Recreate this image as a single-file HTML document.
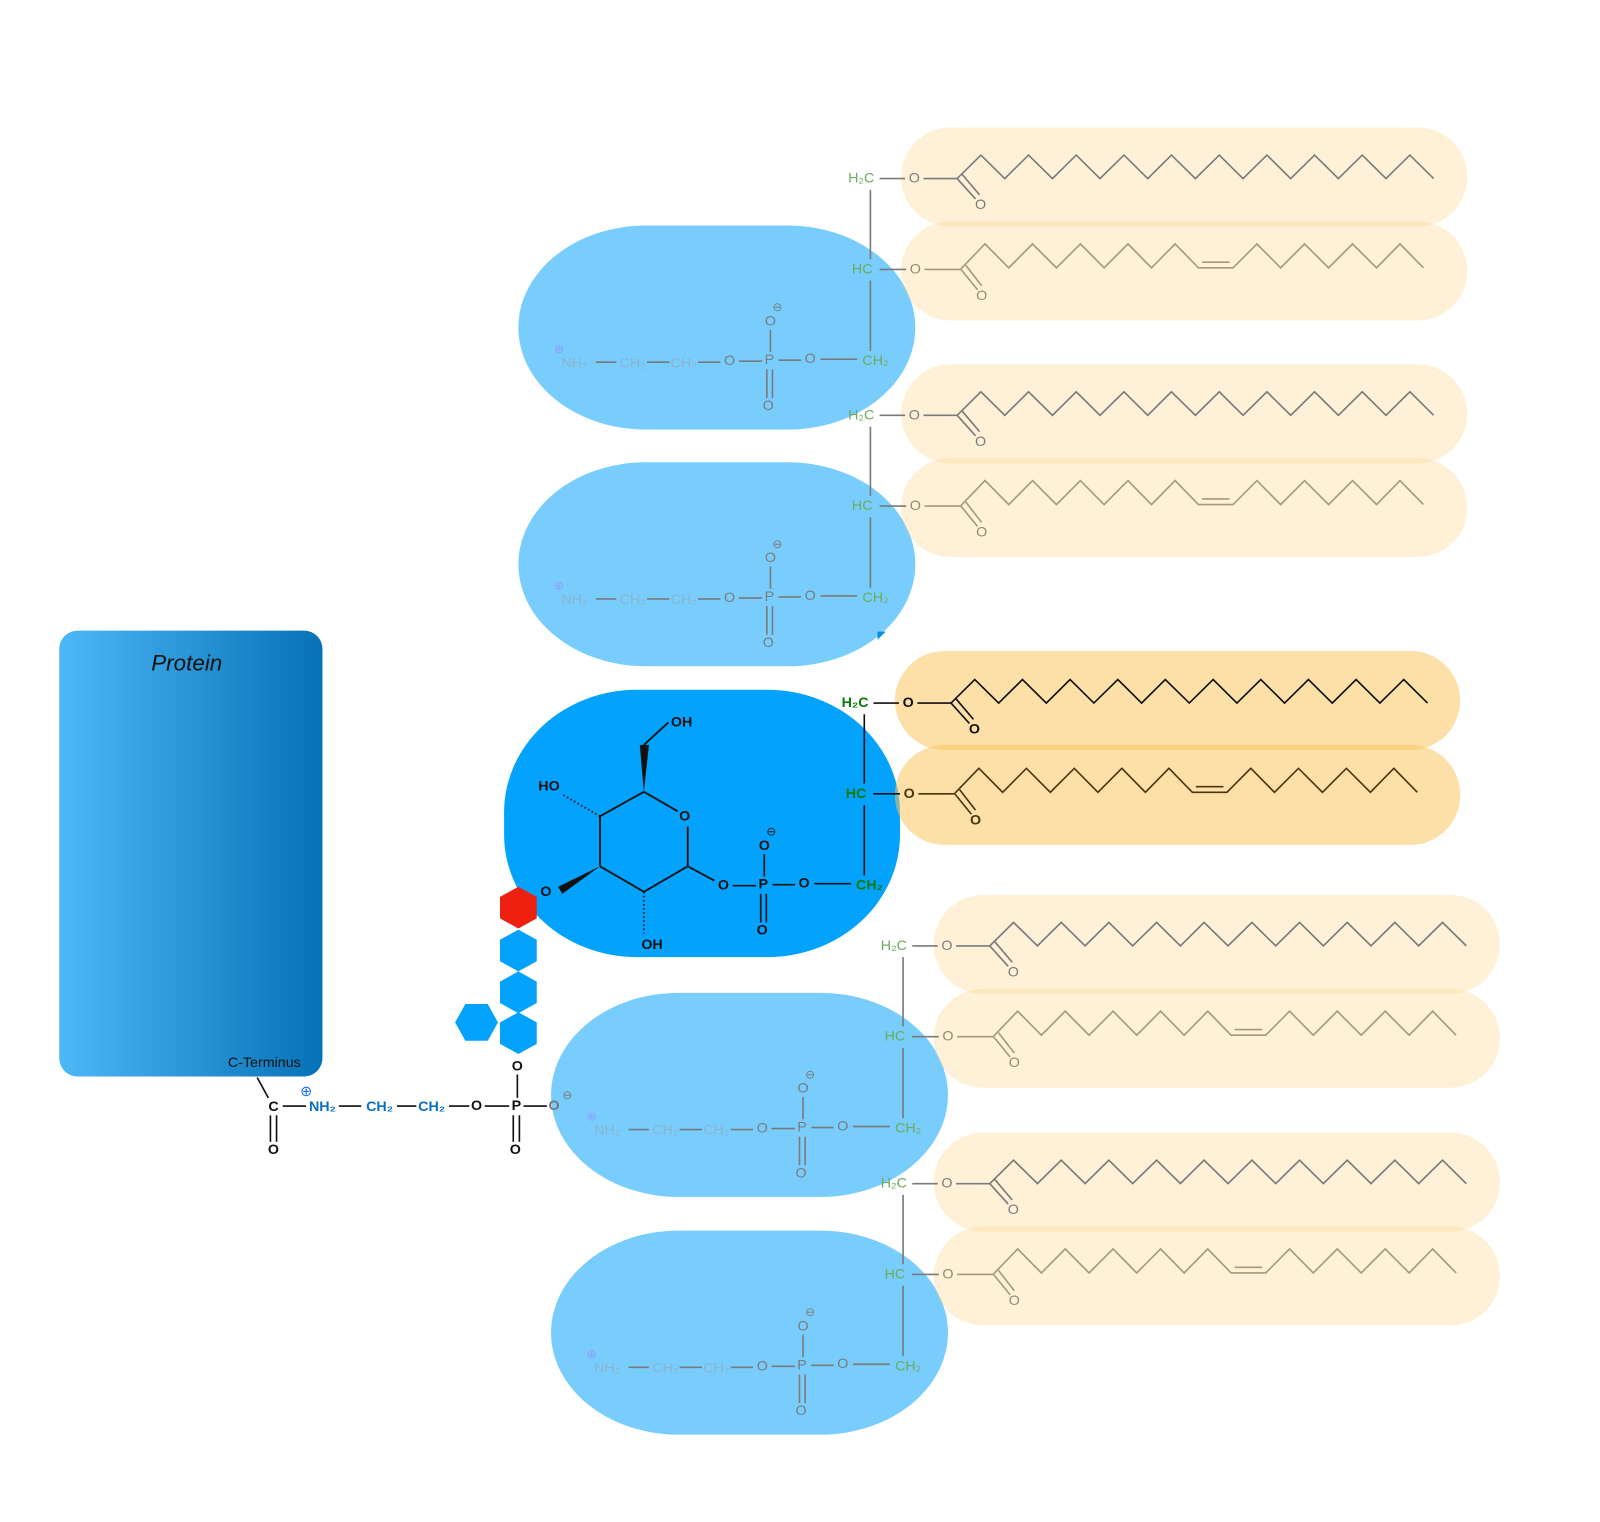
<!DOCTYPE html>
<html><head><meta charset="utf-8"><style>
html,body{margin:0;padding:0;background:#fff;}
svg{display:block;}
text{font-family:"Liberation Sans",sans-serif;text-anchor:middle;dominant-baseline:central;}
</style></head><body>
<svg width="1600" height="1522" viewBox="0 0 1568 1491.6" xmlns="http://www.w3.org/2000/svg">
<defs>
<linearGradient id="pg" x1="0" y1="0" x2="1" y2="0">
<stop offset="0" stop-color="#4cb8f7"/><stop offset="1" stop-color="#0672b6"/>
</linearGradient>
<g id="ch1" fill="none" stroke-width="1.6">
<polyline points="938,175 961.3,152 984.7,175 1008,152 1031.4,175 1054.7,152 1078,175 1101.5,152 1124.8,175 1148,152 1171.5,175 1194.9,152 1218.2,175 1241.6,152 1264.9,175 1288.3,152 1311.6,175 1335,152 1358.3,175 1381.7,152 1405,175"/>
<line x1="905" y1="175" x2="938" y2="175"/>
<line x1="938" y1="175" x2="956" y2="195"/><line x1="943" y1="171" x2="960" y2="191"/>
</g>
<g id="ch2" fill="none" stroke-width="1.6">
<polyline points="941.7,263.5 965.3,239 988.6,262.5 1011.9,239 1035.3,262.5 1058.8,239 1082,262.5 1105.4,239 1128.5,262.5 1151.6,239 1174.5,262.5 1208.4,262.5 1231.8,239 1255,262.5 1278.5,239 1302,262.5 1325.5,239 1349,262.5 1372,239 1395,262.5"/>
<line x1="1178" y1="257" x2="1205" y2="257"/>
<line x1="906" y1="264" x2="941.7" y2="264"/>
<line x1="941.7" y1="264" x2="958" y2="284"/><line x1="946.5" y1="260" x2="962" y2="280"/>
</g>
<g id="fu">
<use href="#ch1" stroke="#7a7a7a"/>
<use href="#ch2" stroke="#a89878"/>
<g stroke="#7a7a7a" stroke-width="1.6" fill="none">
<line x1="862" y1="175" x2="887" y2="175"/>
<line x1="853" y1="186" x2="853" y2="254"/>
<line x1="862" y1="264" x2="888" y2="264"/>
<line x1="853" y1="275" x2="853" y2="344"/>
<line x1="804" y1="352" x2="840" y2="352"/>
<line x1="763" y1="353" x2="785" y2="353"/>
<line x1="755" y1="323" x2="755" y2="345"/>
<line x1="751.5" y1="362" x2="751.5" y2="390"/><line x1="757" y1="362" x2="757" y2="390"/>
<line x1="724" y1="354" x2="747" y2="354"/>
<line x1="684" y1="355" x2="706" y2="355"/>
<line x1="634" y1="355" x2="656" y2="355"/>
<line x1="584" y1="355" x2="604" y2="355"/>
</g>
<g font-size="14" fill="#7a7a7a">
<text x="896" y="175">O</text><text x="961" y="201">O</text>
<text x="897" y="264" fill="#948870">O</text><text x="962" y="290" fill="#948870">O</text>
<text x="794" y="352">O</text><text x="754" y="353">P</text>
<text x="755" y="315">O</text><text x="762" y="301" font-size="12">⊖</text>
<text x="753" y="398">O</text><text x="715" y="354">O</text>
</g>
<g font-size="14" fill="#6aab5c">
<text x="844" y="175">H₂C</text><text x="845" y="264">HC</text><text x="858" y="354">CH₂</text>
</g>
<g font-size="14" fill="#8ab3cc">
<text x="670" y="356">CH₂</text><text x="620" y="356">CH₂</text><text x="563" y="356">NH₂</text>
</g>
<text x="548" y="342" font-size="12" fill="#8f9cff">⊕</text>
</g>
<g id="blob"><rect x="508" y="221" width="389" height="200" rx="125" ry="100" fill="#79cdfd"/></g>
<g id="pills" fill="#fcd588" fill-opacity="0.33">
<rect x="883" y="125" width="555" height="97" rx="48.5"/>
<rect x="883" y="217" width="555" height="97" rx="48.5"/>
</g>
</defs>

<use href="#blob"/>
<use href="#blob" transform="translate(0,232)"/>
<use href="#blob" transform="translate(32,752)"/>
<use href="#blob" transform="translate(32,985)"/>
<rect x="494" y="676" width="388" height="262" rx="130" ry="120" fill="#02a2fd"/>
<path d="M860,619 H868 L860,627 Z" fill="#0a8ee6"/>

<use href="#pills"/>
<use href="#pills" transform="translate(0,232)"/>
<use href="#pills" transform="translate(32,752)"/>
<use href="#pills" transform="translate(32,985)"/>
<g fill="#fcc660" fill-opacity="0.55">
<rect x="877" y="638" width="554" height="97" rx="48.5"/>
<rect x="877" y="730" width="554" height="98" rx="48.5"/>
</g>

<use href="#fu"/>
<use href="#fu" transform="translate(0,232)"/>
<use href="#fu" transform="translate(32,752)"/>
<use href="#fu" transform="translate(32,985)"/>

<g transform="translate(-6,514)">
<use href="#ch1" stroke="#111"/>
<use href="#ch2" stroke="#4a3510"/>
<g stroke="#111" stroke-width="1.6" fill="none">
<line x1="862" y1="175" x2="887" y2="175"/>
<line x1="853" y1="186" x2="853" y2="254"/>
<line x1="862" y1="264" x2="888" y2="264"/>
<line x1="853" y1="275" x2="853" y2="344"/>
<line x1="804" y1="352" x2="840" y2="352"/>
<line x1="763" y1="353" x2="785" y2="353"/>
<line x1="755" y1="323" x2="755" y2="345"/>
<line x1="751.5" y1="362" x2="751.5" y2="390"/><line x1="757" y1="362" x2="757" y2="390"/>
<line x1="724" y1="354" x2="747" y2="354"/>
</g>
<g font-size="14" font-weight="bold" fill="#111">
<text x="896" y="175">O</text><text x="961" y="201">O</text>
<text x="897" y="264" fill="#4a3510">O</text><text x="962" y="290" fill="#4a3510">O</text>
<text x="794" y="352">O</text><text x="754" y="353">P</text>
<text x="755" y="315">O</text><text x="762" y="301" font-size="12" font-weight="normal">⊖</text>
<text x="753" y="398">O</text><text x="715" y="354">O</text>
</g>
<g font-size="14" font-weight="bold" fill="#0a7a0a">
<text x="844" y="175">H₂C</text><text x="845" y="264">HC</text><text x="858" y="354">CH₂</text>
</g>
</g>

<g stroke="#111" stroke-width="1.8" fill="none">
<line x1="631" y1="776" x2="664" y2="795"/>
<line x1="674" y1="810" x2="674" y2="849"/>
<line x1="674" y1="849" x2="631" y2="874"/>
<line x1="631" y1="874" x2="588" y2="849"/>
<line x1="588" y1="849" x2="588" y2="800"/>
<line x1="588" y1="800" x2="631" y2="776"/>
<line x1="674" y1="849" x2="700" y2="863"/>
<line x1="631" y1="730" x2="655" y2="708"/>
<line x1="588" y1="800" x2="550" y2="778" stroke-dasharray="1.5 2.5"/>
<line x1="631" y1="874" x2="631" y2="915" stroke-dasharray="1.5 2.5"/>
</g>
<path d="M631,776 L627,730 L636,730 Z" fill="#111"/>
<path d="M588,849 L547,869 L551,876 Z" fill="#111"/>
<g font-size="14" font-weight="bold" fill="#111">
<text x="671" y="800">O</text>
<text x="668" y="708">OH</text>
<text x="538" y="771">HO</text>
<text x="535" y="874">O</text>
<text x="639" y="926">OH</text>
</g>

<g>
<polygon points="508,869 526,879 526,900 508,910 490,900 490,879" fill="#ee2010"/>
<polygon points="508,911 526,921 526,942 508,952 490,942 490,921" fill="#02a2fd"/>
<polygon points="508,952 526,962 526,983 508,993 490,983 490,962" fill="#02a2fd"/>
<polygon points="508,992 526,1002 526,1023 508,1033 490,1023 490,1002" fill="#02a2fd"/>
<polygon points="446,1002 456,984 478,984 488,1002 478,1020 456,1020" fill="#02a2fd"/>
</g>

<rect x="58" y="618" width="258" height="437" rx="18" fill="url(#pg)"/>
<text x="183" y="650" font-size="22" font-style="italic" fill="#111">Protein</text>
<text x="259" y="1042" font-size="14" fill="#111">C-Terminus</text>

<g stroke="#111" stroke-width="1.6" fill="none">
<line x1="252" y1="1056" x2="263" y2="1076"/>
<line x1="265" y1="1093" x2="265" y2="1119"/><line x1="271" y1="1093" x2="271" y2="1119"/>
<line x1="277" y1="1084" x2="300" y2="1084"/>
<line x1="332" y1="1084" x2="354" y2="1084"/>
<line x1="389" y1="1084" x2="408" y2="1084"/>
<line x1="440" y1="1084" x2="460" y2="1084"/>
<line x1="475" y1="1084" x2="499" y2="1084"/>
<line x1="513" y1="1084" x2="536" y2="1084"/>
<line x1="507" y1="1053" x2="507" y2="1076"/>
<line x1="503" y1="1093" x2="503" y2="1119"/><line x1="509" y1="1093" x2="509" y2="1119"/>
</g>
<g font-size="14" font-weight="bold" fill="#111">
<text x="268" y="1085">C</text><text x="268" y="1127">O</text>
<text x="467" y="1084">O</text><text x="506" y="1084">P</text>
<text x="507" y="1045">O</text><text x="505" y="1127">O</text>
</g>
<text x="543" y="1084" font-size="14" font-weight="bold" fill="#777">O</text>
<text x="556" y="1073" font-size="12" fill="#777">⊖</text>
<g font-size="14" font-weight="bold" fill="#0a6fc2">
<text x="316" y="1085">NH₂</text><text x="372" y="1085">CH₂</text><text x="423" y="1085">CH₂</text>
</g>
<text x="300" y="1070" font-size="14" fill="#1a6fff">⊕</text>
</svg>
</body></html>
